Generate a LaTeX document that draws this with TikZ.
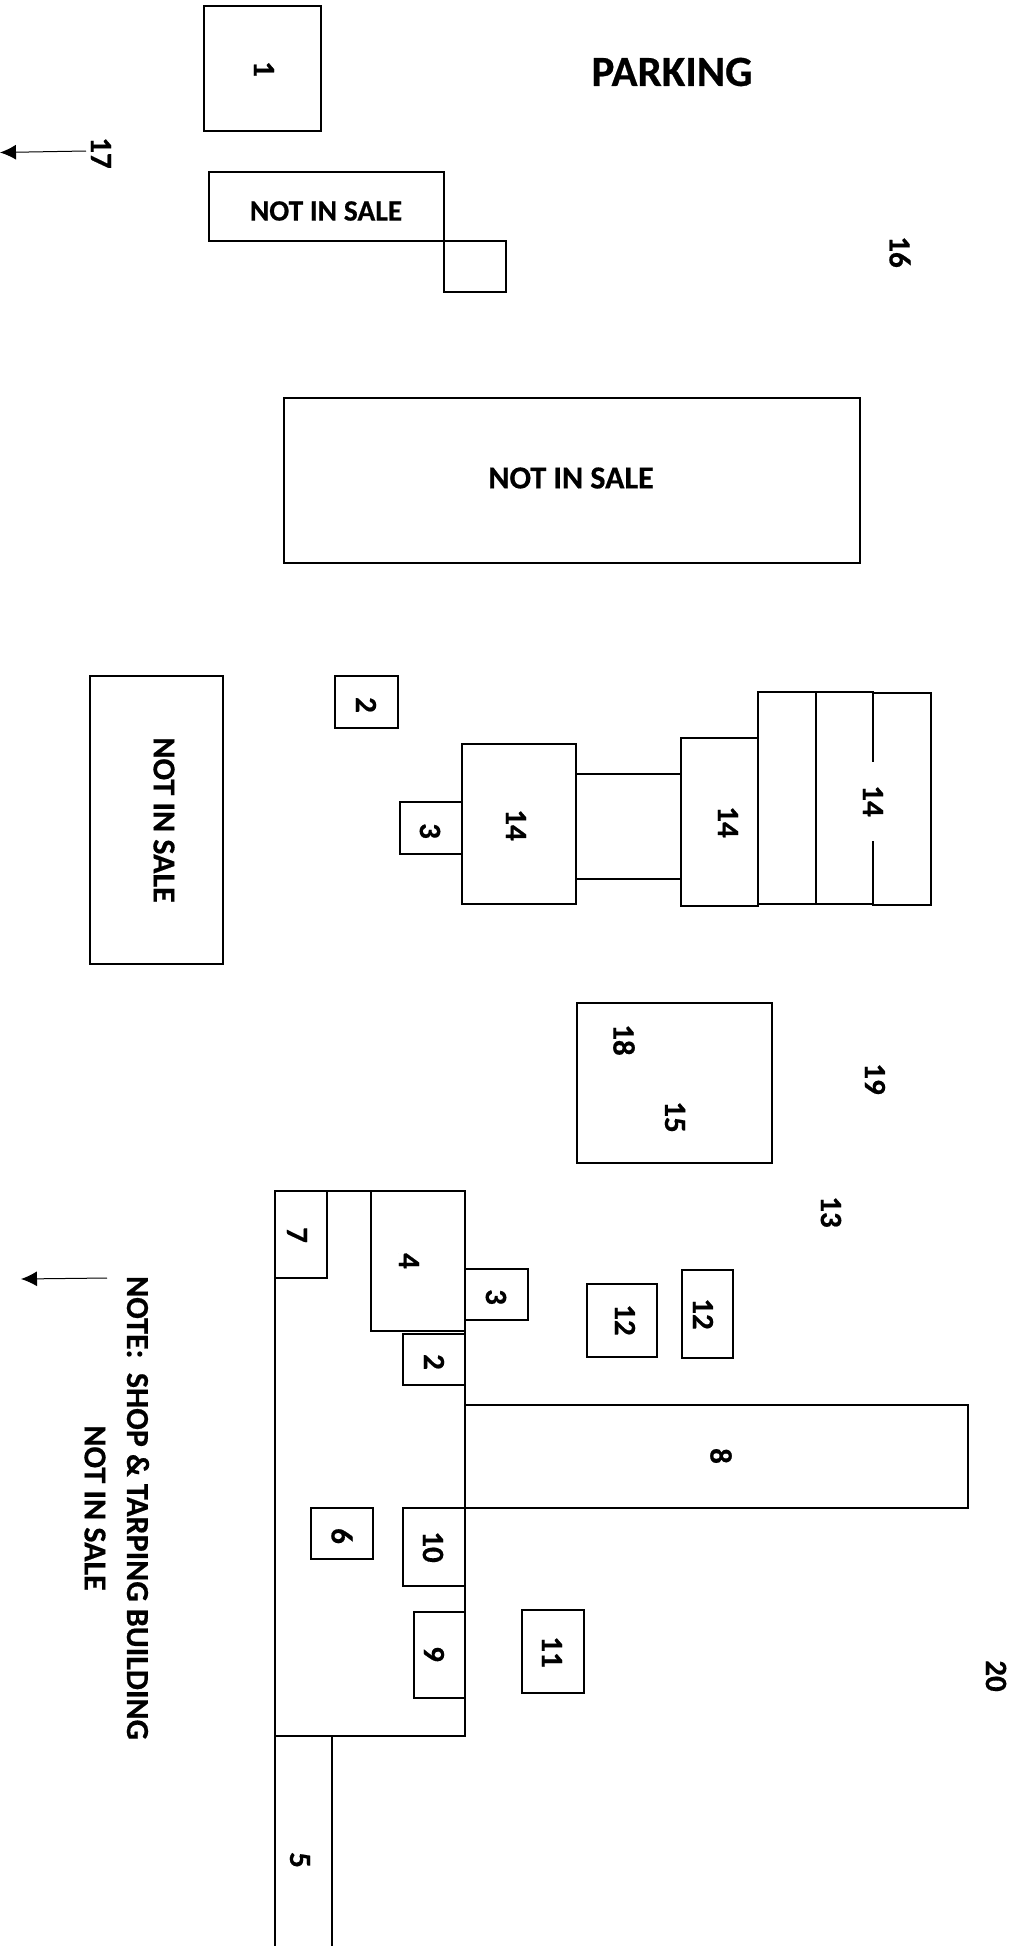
\documentclass[tikz,border=0pt]{standalone}
\usepackage{fontspec}
\setmainfont[BoldFont=Carlito Bold,BoldFeatures={FakeBold=0.5}]{Carlito}
\usetikzlibrary{arrows.meta}
\tikzset{
lot/.style={draw=black,line width=1.7pt},
num/.style={font=\bfseries\fontsize{31}{33}\selectfont,rotate=-90,inner sep=1pt},
sale/.style={font=\bfseries\fontsize{32}{35}\selectfont,inner sep=1pt},
pointer/.style={line width=1pt,-{Latex[length=16pt,width=15pt]}}
}
\begin{document}
\begin{tikzpicture}[x=1pt,y=-1pt]
\useasboundingbox (0,0) rectangle (1014,1946);
% top of the yard
\draw[lot] (204,6) rectangle (321,131);
\draw[lot] (209,172) rectangle (444,241);
\draw[lot] (444,241) rectangle (506,292);
\draw[lot] (284,398) rectangle (860,563);
\node[num] (lblA) at (264,69) {1};
\node[font=\bfseries\fontsize{43}{46}\selectfont,inner sep=1pt] (parking) at (672,72) {PARKING};
\node[font=\bfseries\fontsize{29.5}{32}\selectfont,inner sep=1pt] (saleA) at (326,211) {NOT IN SALE};
\node[sale] (saleB) at (571,478) {NOT IN SALE};
\node[num] (lblP) at (101,153) {17};
\node[num] (lblQ) at (900,252) {16};
\coordinate (tipP) at (0,152.5);
\draw[pointer] (86,151) -- (tipP);
% middle row
\draw[lot] (90,676) rectangle (223,964);
\node[sale,rotate=-90] (saleC) at (164,820) {NOT IN SALE};
\draw[lot] (335,676) rectangle (398,728);
\draw[lot] (400,802) rectangle (462,854);
\draw[lot] (462,744) rectangle (576,904);
\draw[lot] (576,774) rectangle (681,879);
\draw[lot] (681,738) rectangle (758,906);
\draw[lot] (758,692) rectangle (816,904);
\draw[lot] (816,692) rectangle (873,904);
\draw[lot] (873,693) rectangle (931,905);
\node[num] (lblB) at (366,705) {2};
\node[num] (lblC) at (430,831) {3};
\node[num] (lblD) at (516,825) {14};
\node[num] (lblE) at (728,822) {14};
\node[num,fill=white,minimum width=79pt] (lblF) at (873,801) {14};
\draw[lot] (577,1003) rectangle (772,1163);
\node[num] (lblG) at (624,1040) {18};
\node[num] (lblH) at (675,1117) {15};
\node[num] (lblI) at (875,1079) {19};
% shop building
\draw[lot] (275,1191) rectangle (465,1736);
\draw[lot] (275,1191) rectangle (327,1278);
\draw[lot] (371,1191) rectangle (465,1331);
\draw[lot] (465,1269) rectangle (528,1320);
\draw[lot] (403,1334) rectangle (465,1385);
\draw[lot] (465,1405) rectangle (968,1508);
\draw[lot] (311,1508) rectangle (373,1559);
\draw[lot] (403,1508) rectangle (465,1586);
\draw[lot] (414,1612) rectangle (465,1698);
\draw[lot] (522,1610) rectangle (584,1693);
\draw[lot] (587,1284) rectangle (657,1357);
\draw[lot] (682,1270) rectangle (733,1358);
\draw[lot] (275,1736) -- (275,1946);
\draw[lot] (332,1736) -- (332,1946);
\node[num] (lblJ) at (297,1235) {7};
\node[num] (lblK) at (409,1261) {4};
\node[num] (lblL) at (496,1297) {3};
\node[num] (lblM) at (434,1362) {2};
\node[num] (lblN) at (625,1320) {12};
\node[num] (lblO) at (703,1314) {12};
\node[num] (lblR) at (831,1212) {13};
\node[num] (lblS) at (721,1456) {8};
\node[num] (lblT) at (342,1536) {6};
\node[num] (lblU) at (433,1547) {10};
\node[num] (lblV) at (434,1654) {9};
\node[num] (lblW) at (552,1652) {11};
\node[num] (lblX) at (996,1676) {20};
\node[num] (lblY) at (300,1860) {5};
\node[sale,rotate=-90] (noteA) at (138,1508) {NOTE:\ \ SHOP \& TARPING BUILDING};
\node[sale,rotate=-90] (noteB) at (95,1508) {NOT IN SALE};
\coordinate (tipN) at (21,1279);
\draw[pointer] (107,1278) -- (tipN);
\end{tikzpicture}
\end{document}
